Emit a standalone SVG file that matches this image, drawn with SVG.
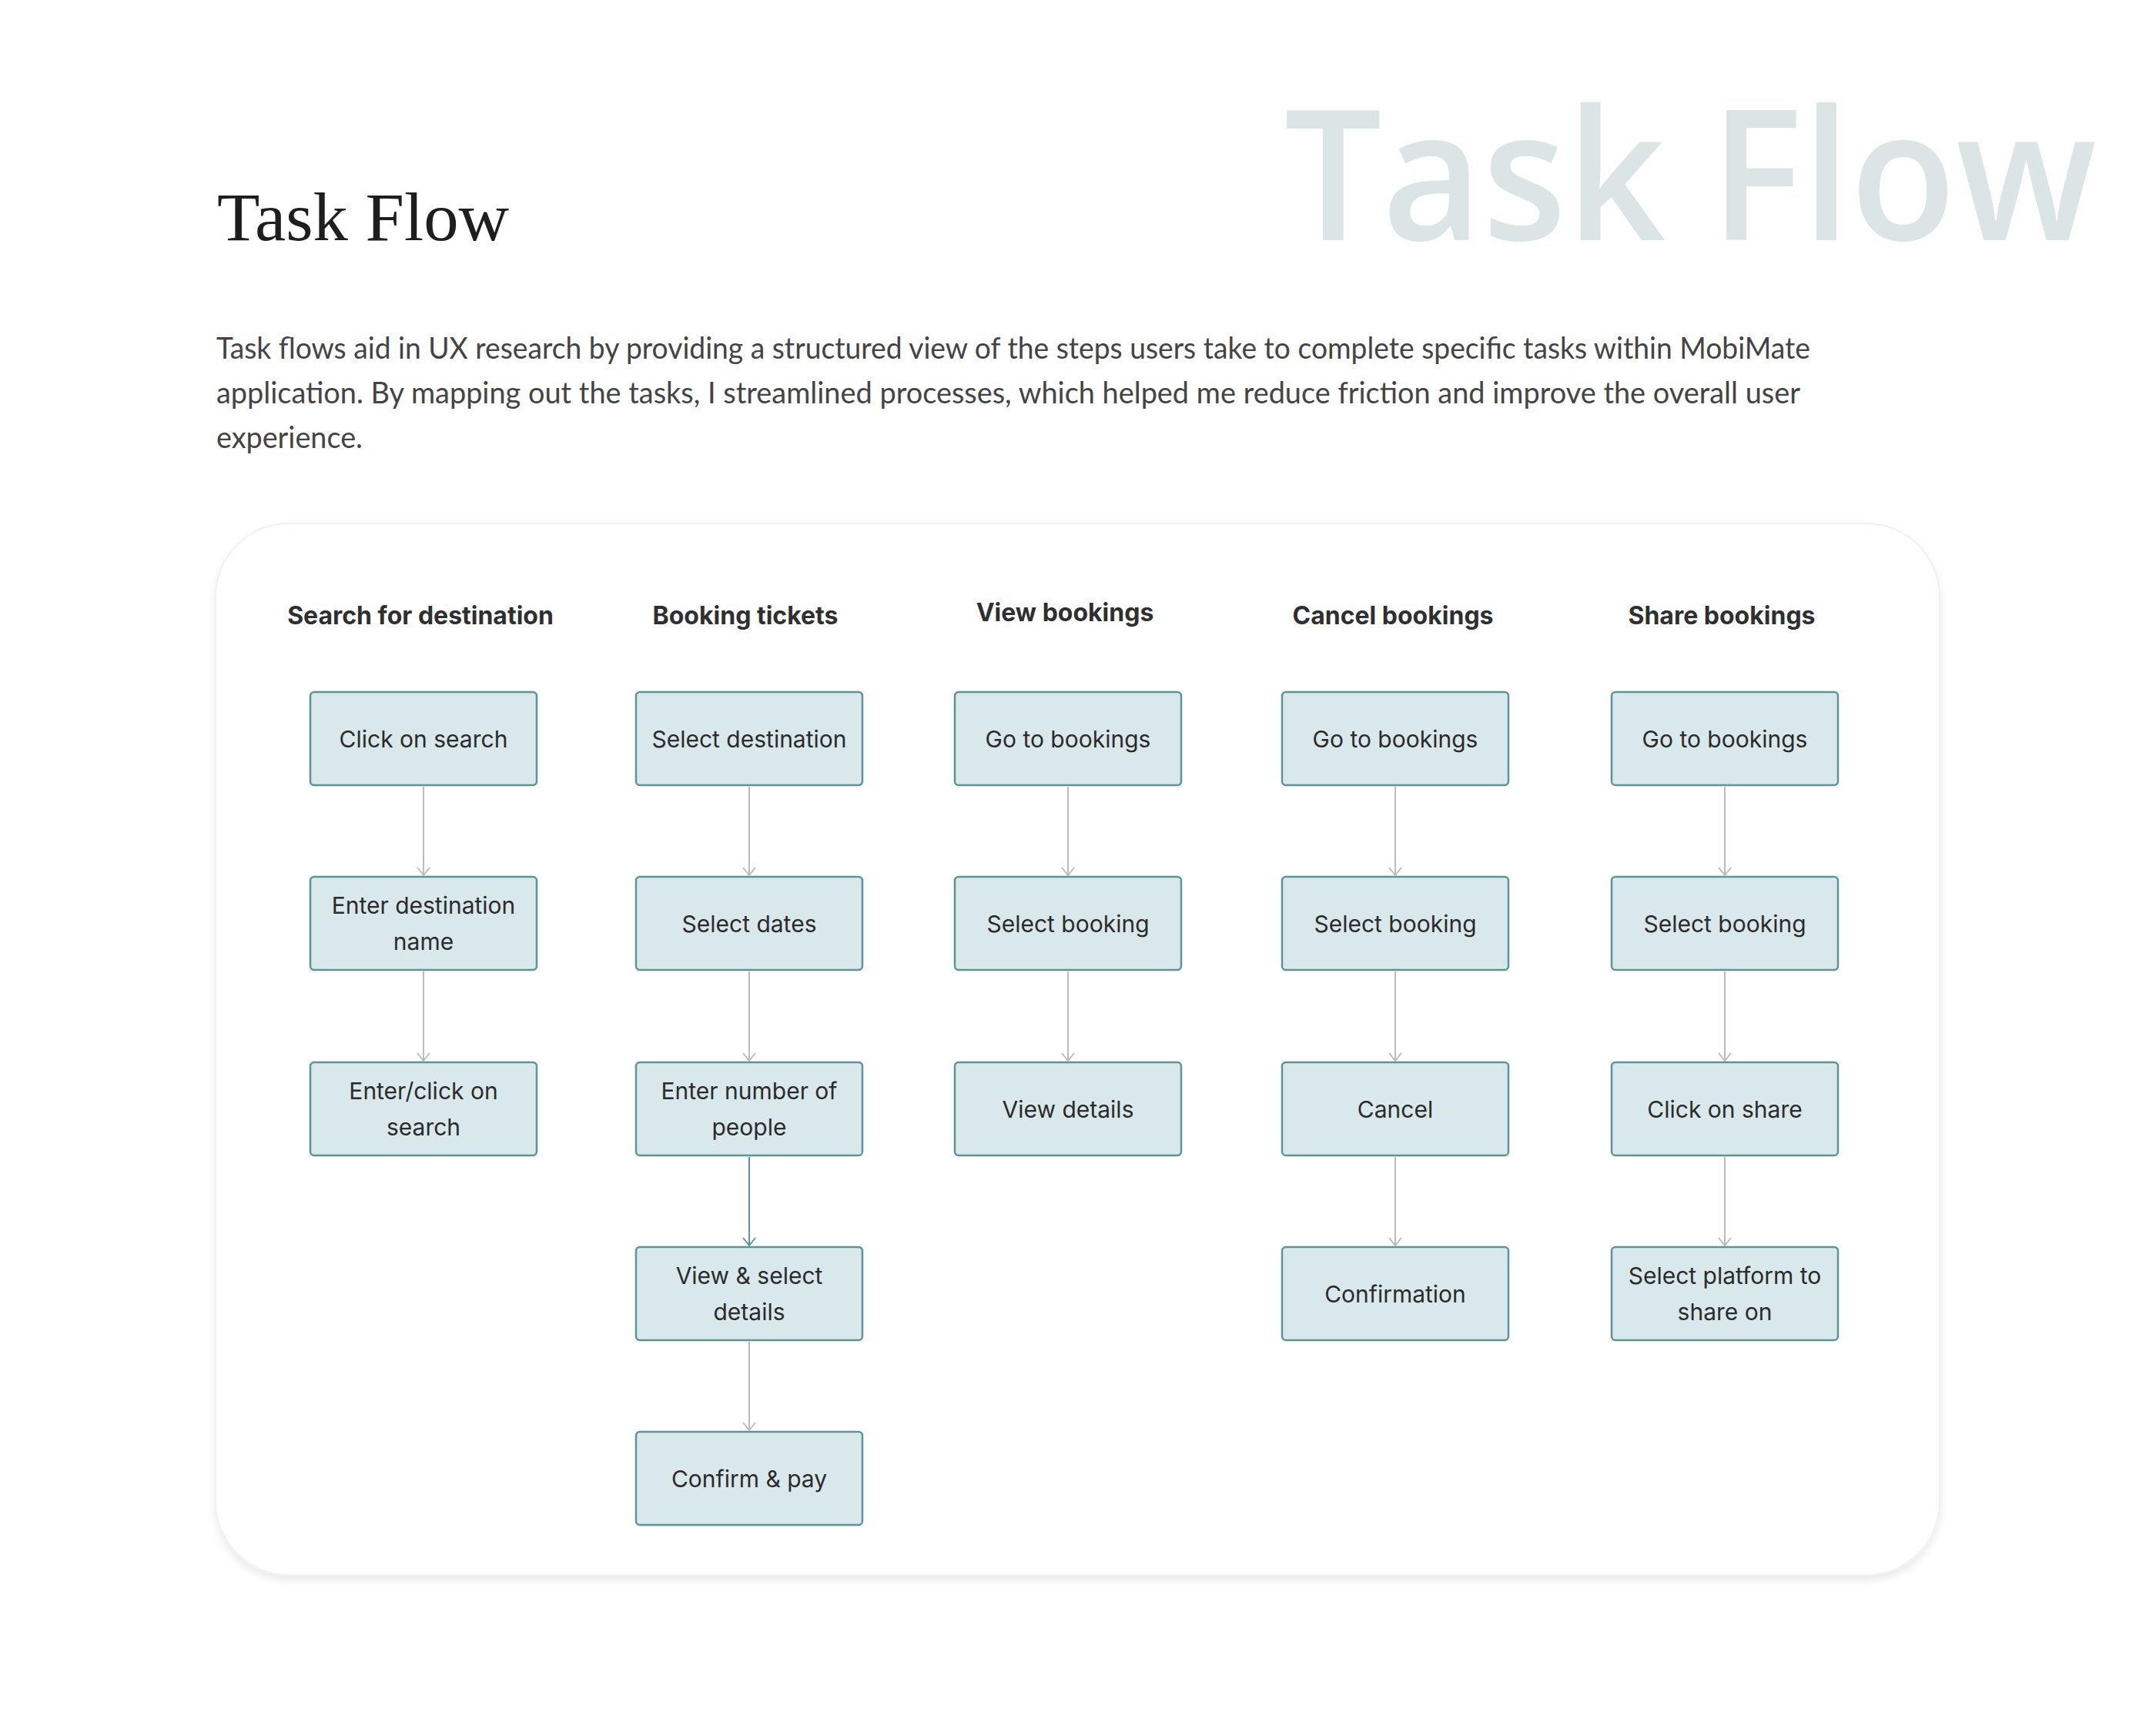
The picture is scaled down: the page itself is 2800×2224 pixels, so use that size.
<svg xmlns="http://www.w3.org/2000/svg" width="2800" height="2224" viewBox="0 0 2800 2224">
<defs>
<style>
.title{font-family:"Liberation Serif","DejaVu Serif",serif;font-size:88px;fill:#1e1e1e}
.wm{font-family:"Open Sans","Liberation Sans",sans-serif;font-size:236px;font-weight:600;fill:#dbe5e6}
.para{font-family:"Lato","Liberation Sans",sans-serif;font-size:38px;fill:#444444}
.hdr{font-family:Inter,"Liberation Sans",sans-serif;font-size:32px;font-weight:700;fill:#2f2f2f;text-anchor:middle}
.box{fill:#d9e8ea;stroke:#5b959b;stroke-width:2.5}
.lbl{font-family:Inter,"Liberation Sans",sans-serif;font-size:30px;fill:#2b2b2b;text-anchor:middle}
.conn{fill:none;stroke:#bcbcbc;stroke-width:2}
.conn.teal{stroke:#5b959b}
</style>
<marker id="arr" viewBox="0 0 14 20" refX="12" refY="10" markerWidth="14" markerHeight="20" markerUnits="userSpaceOnUse" orient="auto">
<path d="M2,2 L12,10 L2,18" fill="none" stroke="#bcbcbc" stroke-width="2"/>
</marker>
<marker id="arrT" viewBox="0 0 14 20" refX="12" refY="10" markerWidth="14" markerHeight="20" markerUnits="userSpaceOnUse" orient="auto">
<path d="M2,2 L12,10 L2,18" fill="none" stroke="#5b959b" stroke-width="2"/>
</marker>
<filter id="sh" x="-5%" y="-5%" width="110%" height="115%">
<feGaussianBlur in="SourceAlpha" stdDeviation="6"/>
<feOffset dy="6" result="b"/>
<feComponentTransfer><feFuncA type="linear" slope="0.09"/></feComponentTransfer>
<feMerge><feMergeNode/><feMergeNode in="SourceGraphic"/></feMerge>
</filter>
</defs>
<rect width="2800" height="2224" fill="#ffffff"/>
<text class="wm" x="1668" y="312" textLength="1055" lengthAdjust="spacingAndGlyphs">Task Flow</text>
<text class="title" x="282" y="312" textLength="379" lengthAdjust="spacingAndGlyphs">Task Flow</text>
<g id="intro">
<text class="para" x="281" y="466" textLength="2070" lengthAdjust="spacingAndGlyphs">Task flows aid in UX research by providing a structured view of the steps users take to complete specific tasks within MobiMate</text>
<text class="para" x="281" y="524" textLength="2057" lengthAdjust="spacingAndGlyphs">application. By mapping out the tasks, I streamlined processes, which helped me reduce friction and improve the overall user</text>
<text class="para" x="281" y="582" textLength="190" lengthAdjust="spacingAndGlyphs">experience.</text>
</g>
<rect id="card" x="280" y="680" width="2239" height="1366" rx="95" fill="#ffffff" stroke="#f1f1f1" stroke-width="2" filter="url(#sh)"/>
<g id="headers">
<text class="hdr" x="546" y="811">Search for destination</text>
<text class="hdr" x="968" y="811">Booking tickets</text>
<text class="hdr" x="1383" y="807">View bookings</text>
<text class="hdr" x="1809" y="811">Cancel bookings</text>
<text class="hdr" x="2236" y="811">Share bookings</text>
</g>
<g id="connectors">
<line class="conn" x1="550" y1="1022" x2="550" y2="1137" marker-end="url(#arr)"/>
<line class="conn" x1="550" y1="1262" x2="550" y2="1378" marker-end="url(#arr)"/>
<line class="conn" x1="973" y1="1022" x2="973" y2="1137" marker-end="url(#arr)"/>
<line class="conn" x1="973" y1="1262" x2="973" y2="1378" marker-end="url(#arr)"/>
<line class="conn teal" x1="973" y1="1503" x2="973" y2="1618" marker-end="url(#arrT)"/>
<line class="conn" x1="973" y1="1743" x2="973" y2="1858" marker-end="url(#arr)"/>
<line class="conn" x1="1387" y1="1022" x2="1387" y2="1137" marker-end="url(#arr)"/>
<line class="conn" x1="1387" y1="1262" x2="1387" y2="1378" marker-end="url(#arr)"/>
<line class="conn" x1="1812" y1="1022" x2="1812" y2="1137" marker-end="url(#arr)"/>
<line class="conn" x1="1812" y1="1262" x2="1812" y2="1378" marker-end="url(#arr)"/>
<line class="conn" x1="1812" y1="1503" x2="1812" y2="1618" marker-end="url(#arr)"/>
<line class="conn" x1="2240" y1="1022" x2="2240" y2="1137" marker-end="url(#arr)"/>
<line class="conn" x1="2240" y1="1262" x2="2240" y2="1378" marker-end="url(#arr)"/>
<line class="conn" x1="2240" y1="1503" x2="2240" y2="1618" marker-end="url(#arr)"/>
</g>
<g id="n1a"><rect class="box" x="403" y="899" width="294" height="121" rx="5"/><text class="lbl" x="550" y="971">Click on search</text></g>
<g id="n1b"><rect class="box" x="403" y="1139" width="294" height="121" rx="5"/><text class="lbl" x="550" y="1187">Enter destination</text><text class="lbl" x="550" y="1234">name</text></g>
<g id="n1c"><rect class="box" x="403" y="1380" width="294" height="121" rx="5"/><text class="lbl" x="550" y="1428">Enter/click on</text><text class="lbl" x="550" y="1475">search</text></g>
<g id="n2a"><rect class="box" x="826" y="899" width="294" height="121" rx="5"/><text class="lbl" x="973" y="971">Select destination</text></g>
<g id="n2b"><rect class="box" x="826" y="1139" width="294" height="121" rx="5"/><text class="lbl" x="973" y="1211">Select dates</text></g>
<g id="n2c"><rect class="box" x="826" y="1380" width="294" height="121" rx="5"/><text class="lbl" x="973" y="1428">Enter number of</text><text class="lbl" x="973" y="1475">people</text></g>
<g id="n2d"><rect class="box" x="826" y="1620" width="294" height="121" rx="5"/><text class="lbl" x="973" y="1668">View &amp; select</text><text class="lbl" x="973" y="1715">details</text></g>
<g id="n2e"><rect class="box" x="826" y="1860" width="294" height="121" rx="5"/><text class="lbl" x="973" y="1932">Confirm &amp; pay</text></g>
<g id="n3a"><rect class="box" x="1240" y="899" width="294" height="121" rx="5"/><text class="lbl" x="1387" y="971">Go to bookings</text></g>
<g id="n3b"><rect class="box" x="1240" y="1139" width="294" height="121" rx="5"/><text class="lbl" x="1387" y="1211">Select booking</text></g>
<g id="n3c"><rect class="box" x="1240" y="1380" width="294" height="121" rx="5"/><text class="lbl" x="1387" y="1452">View details</text></g>
<g id="n4a"><rect class="box" x="1665" y="899" width="294" height="121" rx="5"/><text class="lbl" x="1812" y="971">Go to bookings</text></g>
<g id="n4b"><rect class="box" x="1665" y="1139" width="294" height="121" rx="5"/><text class="lbl" x="1812" y="1211">Select booking</text></g>
<g id="n4c"><rect class="box" x="1665" y="1380" width="294" height="121" rx="5"/><text class="lbl" x="1812" y="1452">Cancel</text></g>
<g id="n4d"><rect class="box" x="1665" y="1620" width="294" height="121" rx="5"/><text class="lbl" x="1812" y="1692">Confirmation</text></g>
<g id="n5a"><rect class="box" x="2093" y="899" width="294" height="121" rx="5"/><text class="lbl" x="2240" y="971">Go to bookings</text></g>
<g id="n5b"><rect class="box" x="2093" y="1139" width="294" height="121" rx="5"/><text class="lbl" x="2240" y="1211">Select booking</text></g>
<g id="n5c"><rect class="box" x="2093" y="1380" width="294" height="121" rx="5"/><text class="lbl" x="2240" y="1452">Click on share</text></g>
<g id="n5d"><rect class="box" x="2093" y="1620" width="294" height="121" rx="5"/><text class="lbl" x="2240" y="1668">Select platform to</text><text class="lbl" x="2240" y="1715">share on</text></g>
</svg>
